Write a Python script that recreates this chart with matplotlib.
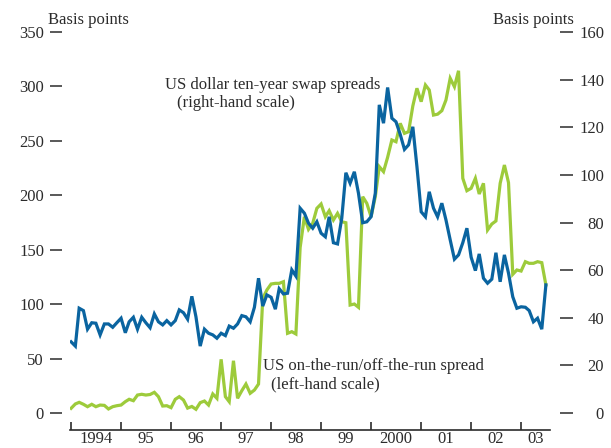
import matplotlib
matplotlib.use('Agg')  # no display
import matplotlib.pyplot as plt
import pandas as pd

plt.rcParams['font.family'] = ['Liberation Serif', 'DejaVu Serif']
plt.rcParams['font.size'] = 12

# monthly observations, Jan 1994 .. Jul 2003
months = pd.date_range('1994-01-01', '2003-07-01', freq='MS')

# US dollar ten-year swap spreads (right-hand scale, basis points)
swap_spread = [
    29.9, 28.1, 44.0, 43.0, 35.2, 37.9, 37.7, 32.8, 37.4, 37.4, 36.0, 37.9,
    39.8, 33.7, 38.3, 40.2, 35.2, 40.2, 37.9, 35.8, 41.6, 38.3, 37.0, 38.8,
    37.0, 38.8, 43.3, 42.1, 39.4, 49.0, 40.4, 28.1, 35.2, 33.5, 32.8, 31.4,
    33.5, 32.5, 36.5, 35.6, 37.4, 40.9, 40.4, 38.3, 44.4, 56.6, 44.9, 49.6,
    48.6, 43.6, 52.2, 50.0, 50.3, 60.1, 57.5, 86.0, 83.9, 79.7, 77.6, 80.3,
    75.5, 74.0, 82.4, 71.5, 71.0, 81.8, 100.9, 96.5, 101.3, 92.3, 79.9, 80.3,
    82.4, 92.3, 129.4, 121.7, 136.7, 123.8, 122.3, 117.0, 110.7, 112.6, 120.2, 103.5,
    84.5, 82.4, 92.9, 86.0, 82.4, 88.1, 81.1, 72.7, 64.6, 66.4, 71.5, 77.6,
    65.4, 59.8, 66.8, 56.6, 54.5, 56.2, 67.3, 55.1, 66.4, 58.7, 48.8, 44.0,
    44.6, 44.4, 43.0, 38.3, 39.8, 35.2, 53.8,
]

# US on-the-run/off-the-run spread (left-hand scale, basis points)
otr_spread = [
    4.3, 8.3, 9.8, 8.0, 5.8, 8.0, 5.8, 7.3, 7.0, 3.7, 5.8, 6.7,
    7.3, 10.4, 12.6, 11.3, 16.5, 17.2, 16.5, 17.0, 19.0, 15.0, 6.4, 6.7,
    4.9, 12.6, 15.0, 11.9, 4.5, 6.0, 3.4, 9.5, 11.0, 7.3, 17.5, 13.5,
    49.3, 15.0, 10.4, 48.0, 13.5, 20.5, 26.6, 18.1, 21.1, 26.6, 105.4, 113.0,
    118.5, 119.1, 119.1, 120.6, 73.2, 74.7, 72.6, 152.0, 180.3, 168.7, 174.3, 188.0,
    192.0, 180.3, 185.8, 177.3, 183.4, 175.7, 174.8, 99.2, 100.1, 97.1, 198.7, 192.6,
    180.3, 198.7, 226.3, 221.7, 234.9, 250.8, 249.2, 266.1, 256.9, 258.4, 282.0, 298.3,
    286.0, 301.3, 296.7, 273.7, 274.5, 277.7, 287.5, 307.5, 299.7, 314.4, 215.6, 204.2,
    206.4, 215.6, 201.2, 211.0, 168.1, 173.6, 176.4, 211.0, 227.8, 211.6, 127.4, 131.4,
    130.4, 139.0, 137.5, 137.5, 139.0, 138.1, 117.6,
]

left_ticks = [0, 50, 100, 150, 200, 250, 300, 350]
right_ticks = [0, 20, 40, 60, 80, 100, 120, 140, 160]
year_labels = ['1994', '95', '96', '97', '98', '99', '2000', '01', '02', '03']

BLUE = '#0a64a0'
GREEN = '#9dcb3b'
INK = '#2b2b2b'
PT = 0.72  # points per pixel at dpi 100

fig = plt.figure(figsize=(6.11, 4.48), dpi=100)
W, H = 611, 448
ax = fig.add_axes([70 / W, 1 - 430 / H, 480 / W, 398 / H])
ax2 = ax.twinx()

ax.plot(months, otr_spread, color=GREEN, lw=2.3, solid_joinstyle='miter')
ax2.plot(months, swap_spread, color=BLUE, lw=2.3, solid_joinstyle='miter')

# scales: 0 sits 17 px above the axis line
ax.set_ylim(-17 * 350 / 381, 350)
ax2.set_ylim(-17 * 160 / 381, 160)
ax.set_yticks(left_ticks)
ax2.set_yticks(right_ticks)

ax.set_xlim(pd.Timestamp('1993-12-24'), pd.Timestamp('2003-07-31'))
years = [pd.Timestamp(f'{y}-01-01') for y in range(1994, 2004)]
ax.set_xticks(years)
ax.set_xticklabels([])
# year labels sit between the year ticks
mids = [pd.Timestamp(f'{y}-07-02') for y in range(1994, 2003)] + [pd.Timestamp('2003-04-16')]
ax.set_xticks(mids, minor=True)
ax.set_xticklabels(year_labels, minor=True)

# spines
for a in (ax, ax2):
    a.spines['top'].set_visible(False)
ax.spines['right'].set_visible(False)
ax2.spines['left'].set_visible(False)
ax2.spines['bottom'].set_visible(False)
ax.spines['left'].set_position(('outward', 8 * PT))
ax.spines['left'].set_visible(False)
ax2.spines['right'].set_position(('outward', 10 * PT))
ax2.spines['right'].set_visible(False)
ax.spines['bottom'].set_color(INK)
ax.spines['bottom'].set_linewidth(1.2)

ax.tick_params(axis='y', direction='out', length=12 * PT, width=1.1, color=INK,
               labelcolor=INK, labelsize=12, pad=6 * PT)
ax2.tick_params(axis='y', direction='out', length=13 * PT, width=1.1, color=INK,
                labelcolor=INK, labelsize=12, pad=31 * PT)
for lab in ax2.get_yticklabels():
    lab.set_horizontalalignment('right')
ax.tick_params(axis='x', which='major', direction='in', length=8 * PT, width=1.2, color=INK)
ax.tick_params(axis='x', which='minor', length=0, labelsize=12, labelcolor=INK, pad=0.5)

# texts
def ftext(x, y, s):
    fig.text(x / W, 1 - y / H, s, ha='left', va='baseline', color=INK, fontsize=12)

ftext(48, 24, 'Basis points')
ftext(493, 24, 'Basis points')
ftext(165, 89, 'US dollar ten-year swap spreads')
ftext(177, 107, '(right-hand scale)')
ftext(263, 370, 'US on-the-run/off-the-run spread')
ftext(271, 388, '(left-hand scale)')

fig.savefig('out.png', dpi=100)
